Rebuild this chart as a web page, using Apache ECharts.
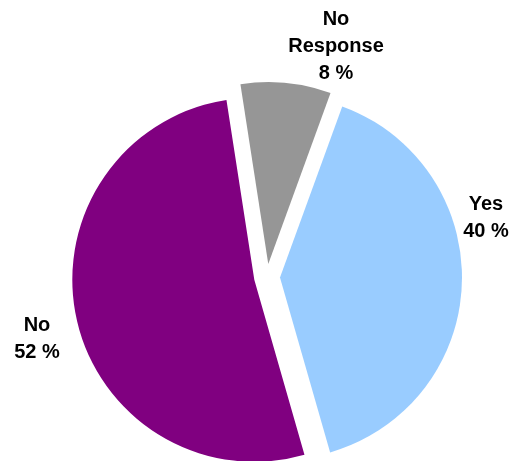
<!DOCTYPE html>
<html>
<head>
<meta charset="utf-8">
<script src="https://cdn.jsdelivr.net/npm/echarts@6/dist/echarts.min.js"></script>
<style>
  html, body { margin: 0; padding: 0; background: #ffffff; }
  #chart { width: 511px; height: 461px; }
</style>
</head>
<body>
<div id="chart"></div>
<script>
// Survey answers (percent of respondents)
const categories = ['Yes', 'No', 'No Response'];
const shares = [40, 52, 8];
const colors = ['#99CCFF', '#800080', '#969696'];

// Where each caption block is centred, in px
const labelSpots = [[486, 218], [37, 339], [336, 46]];

const captionFont = {
  fontFamily: 'Liberation Sans, Arial, sans-serif',
  fontWeight: 'bold',
  fontSize: 20,
  lineHeight: 27,
  fill: '#000000'
};

const chart = echarts.init(document.getElementById('chart'), null, { renderer: 'canvas' });

chart.setOption({
  animation: false,
  backgroundColor: '#ffffff',
  series: [{
    type: 'pie',
    center: [267, 277],
    radius: [0, 182],
    startAngle: 70,
    clockwise: true,
    selectedMode: 'multiple',
    selectedOffset: 13,
    emphasis: { disabled: true },
    label: { show: false },
    labelLine: { show: false },
    data: categories.map((name, i) => ({
      name,
      value: shares[i],
      selected: true,
      itemStyle: { color: colors[i] }
    }))
  }],
  // Category captions with their share, stacked on separate lines
  graphic: categories.map((name, i) => ({
    type: 'text',
    x: labelSpots[i][0],
    y: labelSpots[i][1],
    silent: true,
    style: Object.assign({
      text: name.replace(' ', '\n') + '\n' + shares[i] + ' %',
      align: 'center',
      verticalAlign: 'middle'
    }, captionFont)
  }))
});
</script>
</body>
</html>
